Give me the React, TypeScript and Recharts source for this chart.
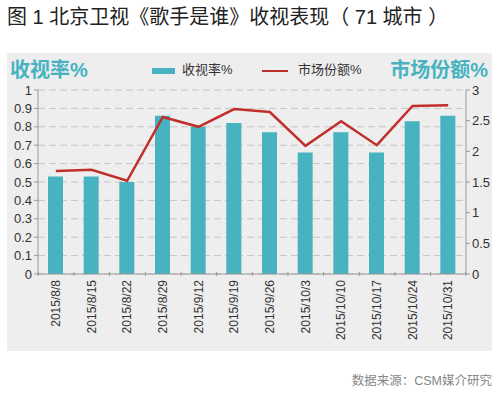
import React from 'react';
import {
  ComposedChart,
  Bar,
  Line,
  XAxis,
  YAxis,
  CartesianGrid,
} from 'recharts';

const dates = [
  '2015/8/8', '2015/8/15', '2015/8/22', '2015/8/29', '2015/9/12', '2015/9/19',
  '2015/9/26', '2015/10/3', '2015/10/10', '2015/10/17', '2015/10/24', '2015/10/31',
];
const ratings = [0.53, 0.53, 0.5, 0.86, 0.8, 0.82, 0.77, 0.66, 0.77, 0.66, 0.83, 0.86];
const shares = [1.68, 1.7, 1.52, 2.56, 2.4, 2.69, 2.64, 2.09, 2.49, 2.1, 2.74, 2.75];
const leftTicks = [0, 0.1, 0.2, 0.3, 0.4, 0.5, 0.6, 0.7, 0.8, 0.9, 1];
const rightTicks = [0, 0.5, 1, 1.5, 2, 2.5, 3];

const data = dates.map((d, i) => ({ date: d, rating: ratings[i], share: shares[i] }));

const TEAL = '#47b3c0';
const RED = '#c0302b';
const FONT = '"Liberation Sans", Arial, "Noto Sans CJK SC", sans-serif';
const BAND = 421 / dates.length;

// rotated date label plus a small tick at the category boundary
const DateTick = (props: any) => {
  const { x, y, payload, index } = props;
  return (
    <g>
      <line x1={x - BAND / 2} x2={x - BAND / 2} y1={y - 8} y2={y - 4} stroke="#999" />
      {index === dates.length - 1 && (
        <line x1={x + BAND / 2} x2={x + BAND / 2} y1={y - 8} y2={y - 4} stroke="#999" />
      )}
      <text
        x={x}
        y={y}
        transform={`rotate(-90 ${x} ${y})`}
        textAnchor="end"
        dominantBaseline="central"
        fontSize={12}
        fill="#333"
        fontFamily={FONT}
      >
        {payload.value}
      </text>
    </g>
  );
};

export default function App() {
  return (
    <div
      style={{
        position: 'absolute',
        left: 0,
        top: 0,
        width: 500,
        height: 396,
        background: '#fff',
        fontFamily: FONT,
      }}
    >
      <div
        style={{
          position: 'absolute',
          left: 7,
          top: 6,
          fontSize: 20,
          lineHeight: '22px',
          color: '#222',
          whiteSpace: 'nowrap',
        }}
      >
        图 1 北京卫视《歌手是谁》收视表现（ 71 城市 ）
      </div>

      <div style={{ position: 'absolute', left: 7, top: 53, width: 485, height: 298, background: '#eeeeee' }}>
        <ComposedChart
          width={485}
          height={298}
          data={data}
          margin={{ top: 37, right: 0, bottom: 0, left: 0 }}
        >
          <CartesianGrid
            yAxisId="left"
            vertical={false}
            stroke="#c4c4c4"
            strokeDasharray="7 4"
          />
          <XAxis
            dataKey="date"
            height={77}
            interval={0}
            tickLine={false}
            axisLine={{ stroke: '#999' }}
            tick={<DateTick />}
            tickMargin={0}
          />
          <YAxis
            yAxisId="left"
            width={31}
            domain={[0, 1]}
            ticks={leftTicks}
            interval={0}
            tickSize={4}
            tickLine={{ stroke: '#999' }}
            axisLine={{ stroke: '#999' }}
            tick={{ fill: '#333', fontSize: 13, fontFamily: FONT }}
          />
          <YAxis
            yAxisId="right"
            orientation="right"
            width={26}
            domain={[0, 3]}
            ticks={rightTicks}
            interval={0}
            tickSize={4}
            tickLine={{ stroke: '#999' }}
            axisLine={{ stroke: '#999' }}
            tick={{ fill: '#333', fontSize: 13, fontFamily: FONT }}
          />
          <Bar yAxisId="left" dataKey="rating" fill={TEAL} barSize={15} isAnimationActive={false} />
          <Line
            yAxisId="right"
            dataKey="share"
            type="linear"
            stroke={RED}
            strokeWidth={2.5}
            dot={false}
            activeDot={false}
            isAnimationActive={false}
          />
        </ComposedChart>

        <div
          style={{
            position: 'absolute',
            left: 3,
            top: 6,
            fontSize: 20,
            lineHeight: '22px',
            fontWeight: 'bold',
            color: TEAL,
          }}
        >
          收视率%
        </div>
        <div
          style={{
            position: 'absolute',
            right: 4,
            top: 6,
            fontSize: 20,
            lineHeight: '22px',
            fontWeight: 'bold',
            color: TEAL,
          }}
        >
          市场份额%
        </div>
        <div style={{ position: 'absolute', left: 145, top: 15, width: 23, height: 6, background: TEAL }} />
        <div style={{ position: 'absolute', left: 175, top: 9, fontSize: 13, lineHeight: '16px', color: '#333' }}>
          收视率%
        </div>
        <div style={{ position: 'absolute', left: 255, top: 17, width: 26, height: 2, background: RED }} />
        <div style={{ position: 'absolute', left: 291, top: 9, fontSize: 13, lineHeight: '16px', color: '#333' }}>
          市场份额%
        </div>
      </div>

      <div style={{ position: 'absolute', right: 8, top: 374, fontSize: 12.5, lineHeight: '15px', color: '#888' }}>
        数据来源：CSM媒介研究
      </div>
    </div>
  );
}
